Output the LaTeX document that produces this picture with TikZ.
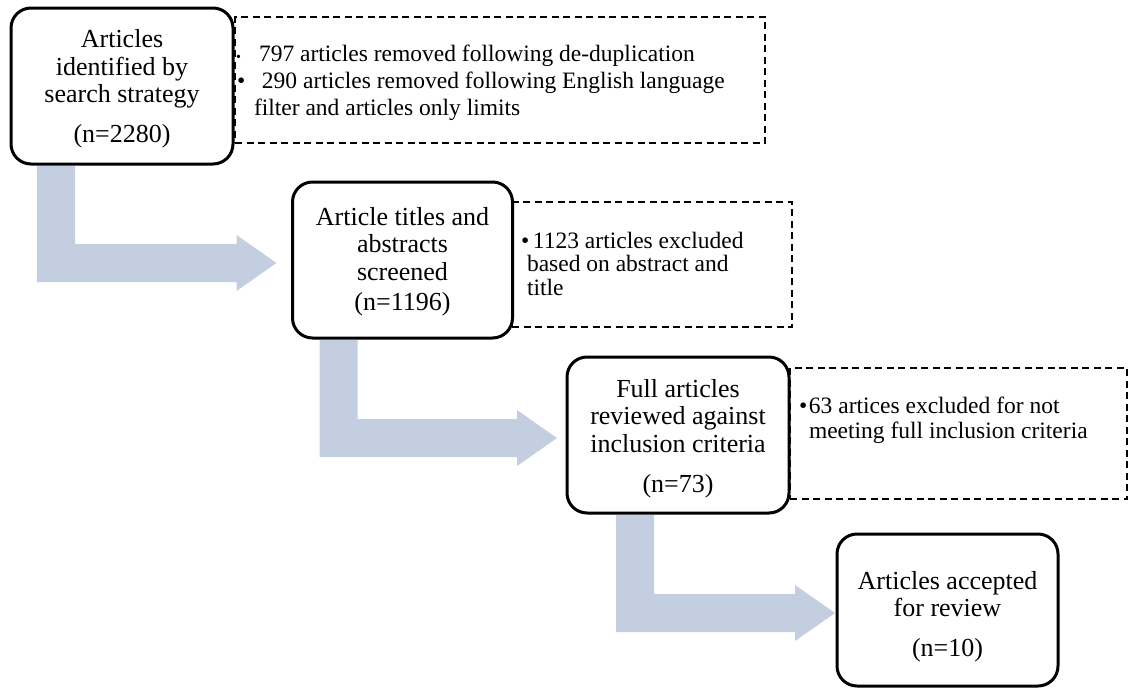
\documentclass[tikz,border=0pt]{standalone}
\usepackage{fontspec}
\setmainfont{Liberation Serif}
\usetikzlibrary{calc}

\definecolor{flowblue}{RGB}{195,206,225}

\tikzset{
  stage/.style={draw=black, line width=3pt, rounded corners=20pt, fill=white,
    align=center, inner sep=0pt, outer sep=0pt, minimum height=156pt,
    font=\fontsize{26}{27.5}\selectfont},
  note/.style={draw=black, line width=1.4pt, dash pattern=on 7pt off 4.5pt,
    inner sep=0pt, outer sep=0pt, anchor=north west},
  noteline/.style={anchor=base west, inner sep=0pt, outer sep=0pt,
    font=\fontsize{23.5}{25}\selectfont},
}

% top strut that pushes a stage's text block down
\newcommand{\toppad}[1]{\rule{0pt}{#1}}

% L-shaped block arrow from the bottom of #1 to the left side of #2;
% #3 = inset of the stem from #1's left side, #4 = gap before #2
\newcommand{\flowturn}[4]{%
  \coordinate (ft-a) at ($(#1.south west)+(#3,2)$);
  \coordinate (ft-t) at ($(#2.west)+(-#4,3)$);
  \fill[flowblue]
    (ft-a) -- ++(38,0) -- ($(ft-a |- ft-t)+(38,-19)$)
    -- ($(ft-t)+(-40,-19)$) -- ($(ft-t)+(-40,-28)$) -- (ft-t)
    -- ($(ft-t)+(-40,28)$) -- ($(ft-t)+(-40,19)$)
    -- ($(ft-a |- ft-t)+(0,19)$) -- cycle;
}

\begin{document}
\begin{tikzpicture}[x=1pt, y=-1pt]
  \useasboundingbox (0,0) rectangle (1133,688);

  % dashed side notes
  \node[note, minimum width=530pt, minimum height=126pt] (d1) at (235,17) {};
  \node[note, minimum width=280pt, minimum height=125pt] (d2) at (512,202) {};
  \node[note, minimum width=337pt, minimum height=131pt] (d3) at (790,368) {};

  % main stages
  \node[stage, minimum width=222pt] (s1) at (122,86)
    {\toppad{24pt}Articles\\ identified by\\ search strategy\\[12pt] (n=2280)};
  \node[stage, minimum width=220pt] (s2) at (402.5,260)
    {\toppad{22pt}Article titles and\\ abstracts\\ screened\\[3pt] (n=1196)};
  \node[stage, minimum width=222pt] (s3) at (678,435)
    {\toppad{26pt}Full articles\\ reviewed against\\ inclusion criteria\\[13pt] (n=73)};
  \node[stage, minimum width=221pt, minimum height=152pt] (s4) at (947.5,610)
    {\toppad{31pt}Articles accepted\\ for review\\[12pt] (n=10)};

  % arrows between stages
  \flowturn{s1}{s2}{26}{16}
  \flowturn{s2}{s3}{27}{10}
  \flowturn{s3}{s4}{49}{2}

  % note texts
  \node[noteline] (d1a) at (236,61)
    {\makebox[23pt][l]{\fontsize{14}{14}\selectfont\textbullet}797 articles removed following de-duplication};
  \node[noteline] (d1b) at (237,88)
    {\makebox[25pt][l]{\textbullet}290 articles removed following English language};
  \node[noteline] (d1c) at (254,115) {filter and articles only limits};

  \node[noteline] (d2a) at (521,248) {\makebox[12pt][l]{\textbullet}1123 articles excluded};
  \node[noteline] (d2b) at (527,271) {based on abstract and};
  \node[noteline] (d2c) at (527,295) {title};

  \node[noteline] (d3a) at (799,413) {\makebox[10pt][l]{\textbullet}63 artices excluded for not};
  \node[noteline] (d3b) at (809,438) {meeting full inclusion criteria};
\end{tikzpicture}
\end{document}
